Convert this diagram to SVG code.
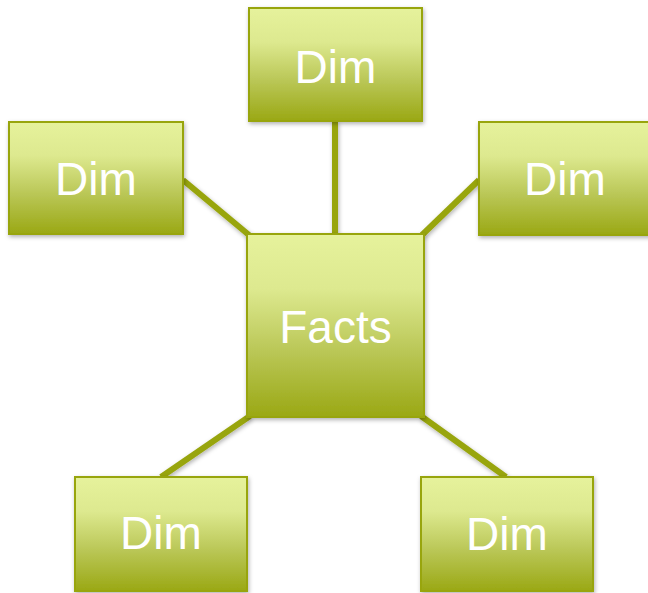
<svg xmlns="http://www.w3.org/2000/svg" width="648" height="593" viewBox="0 0 648 593">
<style>
.box{fill:url(#g);stroke:#98a511;stroke-width:2;filter:url(#sh)}
.lbl{font-family:"Liberation Sans",Arial,sans-serif;font-size:46px;fill:#ffffff;text-anchor:middle}
.con{stroke:#98a511;stroke-width:6;fill:none}
</style>
<defs>
<linearGradient id="g" x1="0" y1="0" x2="0" y2="1">
<stop offset="0" stop-color="#e6f29c"/>
<stop offset="0.3" stop-color="#dde98f"/>
<stop offset="0.65" stop-color="#b9c655"/>
<stop offset="1" stop-color="#9aa814"/>
</linearGradient>
<filter id="sh" x="-20%" y="-20%" width="140%" height="140%">
<feDropShadow dx="1" dy="2" stdDeviation="2" flood-color="#000" flood-opacity="0.3"/>
</filter>
<filter id="shc" filterUnits="userSpaceOnUse" x="0" y="0" width="648" height="593">
<feDropShadow dx="1" dy="2" stdDeviation="2" flood-color="#000" flood-opacity="0.3"/>
</filter>
</defs>
<g id="connectors" filter="url(#shc)">
<line class="con" x1="335" y1="121" x2="335" y2="235"/>
<line class="con" x1="183" y1="180" x2="249" y2="235"/>
<line class="con" x1="479" y1="180" x2="422" y2="235"/>
<line class="con" x1="250" y1="416" x2="161" y2="477"/>
<line class="con" x1="421" y1="416" x2="506" y2="477"/>
</g>
<g id="dim-top"><rect class="box" x="249" y="8" width="173" height="113"/><text class="lbl" x="335.5" y="83">Dim</text></g>
<g id="dim-left"><rect class="box" x="9" y="122" width="174" height="112"/><text class="lbl" x="96" y="195">Dim</text></g>
<g id="dim-right"><rect class="box" x="479" y="122" width="173" height="113"/><text class="lbl" x="565" y="195">Dim</text></g>
<g id="facts"><rect class="box" x="247" y="234" width="177" height="183"/><text class="lbl" x="335.5" y="343">Facts</text></g>
<g id="dim-bottom-left"><rect class="box" x="75" y="477" width="172" height="114"/><text class="lbl" x="161" y="549">Dim</text></g>
<g id="dim-bottom-right"><rect class="box" x="421" y="477" width="172" height="114"/><text class="lbl" x="507" y="550">Dim</text></g>
</svg>
